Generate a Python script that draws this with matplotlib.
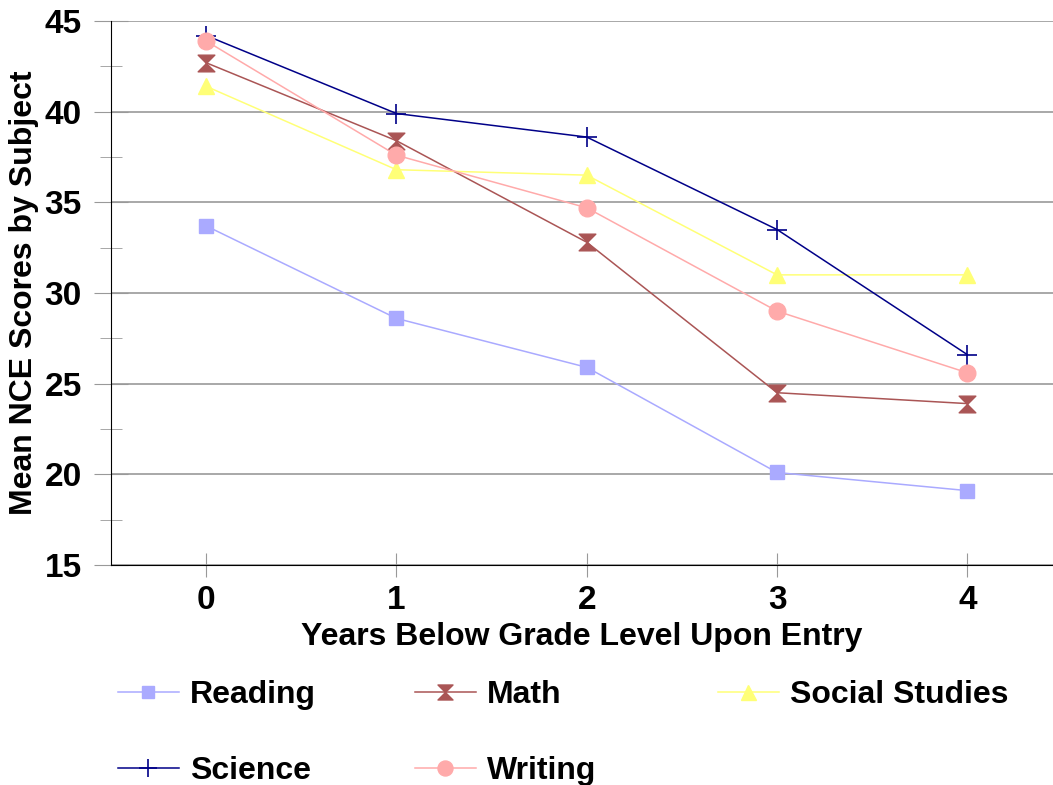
import numpy as np
import matplotlib
matplotlib.use('Agg')
import matplotlib.pyplot as plt
from matplotlib.path import Path

plt.rcParams['font.family'] = ['Liberation Sans', 'DejaVu Sans']
plt.rcParams['font.weight'] = 'bold'

# data
years = [0, 1, 2, 3, 4]
reading = [33.7, 28.6, 25.9, 20.1, 19.1]
math_sc = [42.7, 38.4, 32.8, 24.5, 23.9]
social = [41.4, 36.8, 36.5, 31.0, 31.0]
science = [44.2, 39.9, 38.6, 33.5, 26.6]
writing = [43.9, 37.6, 34.7, 29.0, 25.6]

# hourglass marker for Math
hourglass = Path([(-1, 1), (1, 1), (0, 0), (1, -1), (-1, -1), (0, 0), (-1, 1)],
                 [Path.MOVETO, Path.LINETO, Path.LINETO, Path.LINETO,
                  Path.LINETO, Path.LINETO, Path.CLOSEPOLY])

fig = plt.figure(figsize=(10.53, 7.85), dpi=100)
ax = fig.add_axes([0.1054, 0.2803, 0.8946, 0.6929])

lw = 1.1
l_read, = ax.plot(years, reading, color='#aaaaff', lw=lw, marker='s', ms=10, label='Reading')
l_math, = ax.plot(years, math_sc, color='#aa5555', lw=lw, marker=hourglass, ms=12, label='Math')
l_soc, = ax.plot(years, social, color='#ffff77', lw=lw, marker='^', ms=12, label='Social Studies')
l_sci, = ax.plot(years, science, color='#000088', lw=lw, marker='+', ms=14, mew=1.2, label='Science')
l_wri, = ax.plot(years, writing, color='#ffaaaa', lw=lw, marker='o', ms=12, label='Writing')

ax.set_xlim(-0.5, 4.45)
ax.set_ylim(15, 45)
ax.set_xticks(years)
ax.set_yticks(np.arange(15, 46, 5))
ax.set_yticks(np.arange(17.5, 45, 5), minor=True)
ax.yaxis.grid(True, color='#999999', lw=1.2)
ax.set_axisbelow(True)

for s in ['top', 'right']:
    ax.spines[s].set_visible(False)
ax.spines['left'].set_color('black')
ax.spines['bottom'].set_color('black')

ax.tick_params(axis='y', which='major', direction='inout', length=24, color='#999999',
               labelsize=24, pad=9)
ax.tick_params(axis='y', which='minor', direction='inout', length=16, color='#999999')
ax.tick_params(axis='x', which='major', direction='inout', length=17, color='#999999',
               labelsize=24, pad=6)
for lab in ax.get_xticklabels() + ax.get_yticklabels():
    lab.set_fontweight('bold')

ax.set_xlabel('Years Below Grade Level Upon Entry', fontsize=23, fontweight='bold', labelpad=4)
ax.set_ylabel('Mean NCE Scores by Subject', fontsize=23, fontweight='bold', labelpad=4)

# legend: one column per group so the columns sit where the original has them
cols = [([l_read, l_sci], 0.112), ([l_math, l_wri], 0.394), ([l_soc], 0.682)]
for handles, xpos in cols:
    fig.legend(handles=handles, loc='upper left', bbox_to_anchor=(xpos, 0.134),
               frameon=False, fontsize=23, handlelength=1.9, handletextpad=0.35,
               labelspacing=1.45, borderaxespad=0, borderpad=0, markerscale=0.9)

fig.savefig('out.png', dpi=100)
